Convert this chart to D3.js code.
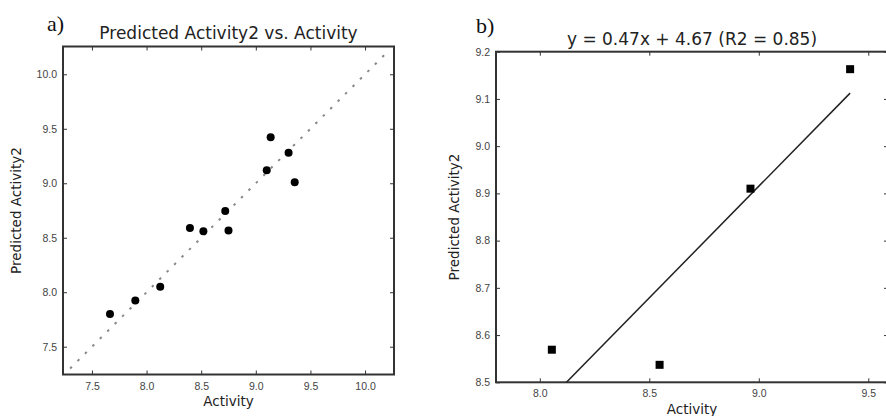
<!DOCTYPE html>
<html lang="en">
<head>
    <meta charset="UTF-8">
    <title>Predicted Activity2 vs. Activity</title>
    <style>
        body {
            margin: 0;
            background-color: white;
        }
        svg {
            display: block;
            font-family: "DejaVu Sans", sans-serif;
        }
        .tick text {
            fill: #444;
            font-size: 10.5px;
        }
        .tick line {
            stroke: #333;
        }
    </style>
</head>
<body>
    <svg width="886" height="416"></svg>
    <script src="https://d3js.org/d3.v7.min.js"></script>
    <script>
        // panel a: experimental vs predicted
        const activityA = [7.665, 7.897, 8.125, 8.397, 8.52, 8.72, 8.75, 9.10, 9.136, 9.30, 9.356];
        const predictedA = [7.80, 7.925, 8.05, 8.59, 8.56, 8.745, 8.566, 9.12, 9.423, 9.28, 9.01];
        const ticksA = [7.5, 8.0, 8.5, 9.0, 9.5, 10.0];
        const diagonal = [7.3, 10.2];

        // panel b: test set with fitted line
        const activityB = [8.055, 8.547, 8.962, 9.417];
        const predictedB = [8.569, 8.537, 8.910, 9.163];
        const ticksBx = [8.0, 8.5, 9.0, 9.5];
        const ticksBy = [8.5, 8.6, 8.7, 8.8, 8.9, 9.0, 9.1, 9.2];

        const titles = ["Predicted Activity2 vs. Activity", "y = 0.47x + 4.67 (R2 = 0.85)"];
        const panelTags = ["a)", "b)"];

        const svg = d3.select("svg");

        function panel(box, xDomain, yDomain, xTicks, yTicks, title, tag) {
            const x = d3.scaleLinear().domain(xDomain).range([box.left, box.right]);
            const y = d3.scaleLinear().domain(yDomain).range([box.bottom, box.top]);
            const g = svg.append("g");

            g.append("g")
                .attr("transform", `translate(0,${box.bottom})`)
                .call(d3.axisBottom(x).tickValues(xTicks).tickFormat(d3.format(".1f"))
                    .tickSizeInner(-4).tickSizeOuter(0).tickPadding(box.xPad))
                .call(a => a.select(".domain").remove());
            g.append("g")
                .attr("transform", `translate(0,${box.top})`)
                .call(d3.axisTop(x).tickValues(xTicks).tickFormat("").tickSizeInner(-4).tickSizeOuter(0))
                .call(a => a.select(".domain").remove());
            g.append("g")
                .attr("transform", `translate(${box.left},0)`)
                .call(d3.axisLeft(y).tickValues(yTicks).tickFormat(d3.format(".1f"))
                    .tickSizeInner(-4).tickSizeOuter(0).tickPadding(6))
                .call(a => a.select(".domain").remove());
            g.append("g")
                .attr("transform", `translate(${box.right},0)`)
                .call(d3.axisRight(y).tickValues(yTicks).tickFormat("").tickSizeInner(-4).tickSizeOuter(0))
                .call(a => a.select(".domain").remove());

            g.append("rect")
                .attr("x", box.left).attr("y", box.top)
                .attr("width", box.right - box.left).attr("height", box.bottom - box.top)
                .attr("fill", "none").attr("stroke", "#333").attr("stroke-width", 2);

            g.append("text")
                .attr("x", (box.left + box.right) / 2).attr("y", box.titleY)
                .attr("text-anchor", "middle").attr("font-size", 17).attr("fill", "#222")
                .text(title);
            g.append("text")
                .attr("x", (box.left + box.right) / 2).attr("y", box.xLabelY)
                .attr("text-anchor", "middle").attr("font-size", 13.5).attr("fill", "#222")
                .text("Activity");
            g.append("text")
                .attr("transform", `translate(${box.yLabelX},${(box.top + box.bottom) / 2}) rotate(-90)`)
                .attr("text-anchor", "middle").attr("font-size", 13.5).attr("fill", "#222")
                .text("Predicted Activity2");
            g.append("text")
                .attr("x", box.tagX).attr("y", box.tagY)
                .attr("font-family", "Liberation Serif, serif").attr("font-size", 22).attr("fill", "#111")
                .text(tag);

            return { x, y, g };
        }

        // a)
        const pa = panel({ left: 63, right: 394, top: 46.5, bottom: 374.5, xPad: 8.5,
                titleY: 38.5, xLabelY: 406, yLabelX: 21, tagX: 47, tagY: 31 },
            [7.235, 10.265], [7.245, 10.255], ticksA, ticksA, titles[0], panelTags[0]);

        pa.g.append("line")
            .attr("x1", pa.x(diagonal[0])).attr("y1", pa.y(diagonal[0]))
            .attr("x2", pa.x(diagonal[1])).attr("y2", pa.y(diagonal[1]))
            .attr("stroke", "#888").attr("stroke-width", 2).attr("stroke-dasharray", "2.5,8");

        pa.g.selectAll("circle")
            .data(activityA.map((v, i) => [v, predictedA[i]]))
            .join("circle")
            .attr("cx", d => pa.x(d[0]))
            .attr("cy", d => pa.y(d[1]))
            .attr("r", 4)
            .attr("fill", "#000");

        // b) (right spine sits just past the picture edge)
        const pb = panel({ left: 496, right: 888, top: 51.7, bottom: 382.3, xPad: 7,
                titleY: 45, xLabelY: 414, yLabelX: 459, tagX: 476, tagY: 33 },
            [7.8, 9.59], [8.5, 9.2], ticksBx, ticksBy, titles[1], panelTags[1]);

        // least-squares fit of the plotted points
        const mx = d3.mean(activityB), my = d3.mean(predictedB);
        const slope = d3.sum(activityB, (v, i) => (v - mx) * (predictedB[i] - my)) /
            d3.sum(activityB, v => (v - mx) ** 2);
        const intercept = my - slope * mx;
        const xr = d3.extent(activityB);

        svg.append("clipPath").attr("id", "clipB")
            .append("rect")
            .attr("x", 496).attr("y", 51.7).attr("width", 392).attr("height", 330.6);

        pb.g.append("line")
            .attr("clip-path", "url(#clipB)")
            .attr("x1", pb.x(xr[0])).attr("y1", pb.y(slope * xr[0] + intercept))
            .attr("x2", pb.x(xr[1])).attr("y2", pb.y(slope * xr[1] + intercept))
            .attr("stroke", "#222").attr("stroke-width", 1.5);

        pb.g.selectAll(".pt")
            .data(activityB.map((v, i) => [v, predictedB[i]]))
            .join("rect")
            .attr("class", "pt")
            .attr("x", d => pb.x(d[0]) - 4)
            .attr("y", d => pb.y(d[1]) - 4)
            .attr("width", 8)
            .attr("height", 8)
            .attr("fill", "#000");
    </script>
</body>
</html>
